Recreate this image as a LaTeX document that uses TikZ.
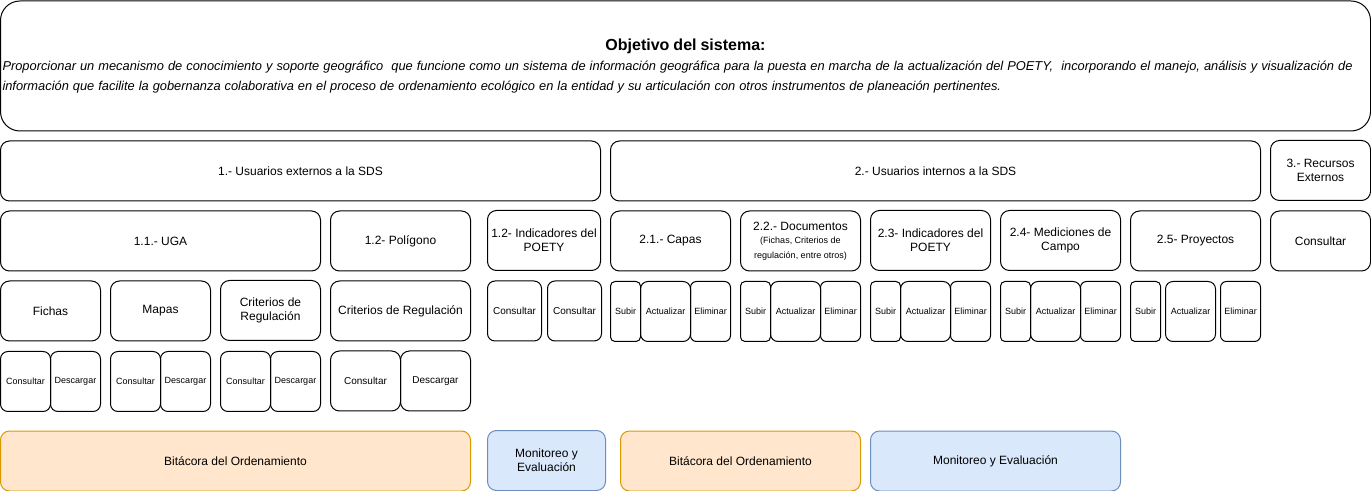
\documentclass[tikz,border=0pt]{standalone}
\usepackage{fontspec}
\setmainfont{Liberation Sans}

\definecolor{naranjaRelleno}{HTML}{FFE6CC}
\definecolor{naranjaBorde}{HTML}{D79B00}
\definecolor{azulRelleno}{HTML}{DAE8FC}
\definecolor{azulBorde}{HTML}{6C8EBF}

\tikzset{
  caja/.style={draw, line width=0.75pt, rounded corners=6.75pt, align=center, inner sep=1pt,
    font=\fontsize{9}{10.8}\selectfont},
  tam/.style 2 args={minimum width=#1*0.75pt, minimum height=#2*0.75pt},
  chica/.style={font=\fontsize{6.75}{8.1}\selectfont},
  media/.style={font=\fontsize{7.5}{9}\selectfont},
  r30/.style={rounded corners=3.4pt},
  r40/.style={rounded corners=4.5pt},
  r50/.style={rounded corners=5.6pt},
  naranja/.style={fill=naranjaRelleno, draw=naranjaBorde},
  azul/.style={fill=azulRelleno, draw=azulBorde},
}

\begin{document}
\begin{tikzpicture}[x=0.75pt,y=0.75pt,yscale=-1,xscale=1]
        \useasboundingbox (-0.5,-0.5) rectangle (1370.5,490.5);

        %Shape: Objetivo
        \node [caja, rounded corners=14.6pt, tam={1370}{130}, text width=1366*0.75pt, align=left, inner sep=0pt] (objetivo) at (685,65.5)
          {{\centering\fontsize{12}{14.4}\selectfont\bfseries Objetivo del sistema:\par}%
           {\fontsize{9.64}{14.7}\selectfont\itshape Proporcionar un mecanismo de conocimiento y soporte geográfico~ que funcione como un sistema de información geográfica para la puesta en marcha de la actualización del POETY,~ incorporando el manejo, análisis y visualización de\\información que facilite la gobernanza colaborativa en el proceso de ordenamiento ecológico en la entidad y su articulación con otros instrumentos de planeación pertinentes.\par}};

        %Shape: Usuarios
        \node [caja, tam={600}{60}] (externos) at (300,170.5) {1.- Usuarios externos a la SDS};
        \node [caja, tam={650}{60}] (internos) at (935,170.5) {2.- Usuarios internos a la SDS};
        \node [caja, tam={100}{60}] (recursos) at (1320,170) {3.- Recursos\\Externos};

        %Shape: Modulos
        \node [caja, tam={320}{60}] (uga) at (160,240.5) {1.1.- UGA};
        \node [caja, tam={140}{60}] (poligono) at (400,240.5) {1.2- Polígono};
        \node [caja, tam={113}{60}] (indExt) at (543.5,240) {1.2- Indicadores del\\POETY};
        \node [caja, tam={120}{60}] (capas) at (670,240.5) {2.1.- Capas};
        \node [caja, tam={120}{60}] (documentos) at (800,240.5) {2.2.- Documentos\\[-0.5pt]{\fontsize{6.75}{9}\selectfont(Fichas, Criterios de}\\[0pt]{\fontsize{6.75}{9}\selectfont regulación, entre otros)}};
        \node [caja, tam={120}{60}] (indInt) at (930,240) {2.3- Indicadores del\\POETY};
        \node [caja, tam={120}{60}] (mediciones) at (1060,240) {2.4- Mediciones de\\Campo};
        \node [caja, tam={130}{60}] (proyectos) at (1195,240.5) {2.5- Proyectos};
        \node [caja, tam={100}{60}] (consRec) at (1320,240.5) {Consultar};

        %Shape: Productos UGA y Poligono
        \node [caja, tam={100}{60}] (fichas) at (50,310.5) {Fichas};
        \node [caja, tam={100}{60}] (mapas) at (160,310.5) {Mapas};
        \node [caja, tam={100}{60}] (critUga) at (270,310) {Criterios de\\Regulación};
        \node [caja, tam={140}{60}] (critPol) at (400,310.5) {Criterios de Regulación};
        \node [caja, media, r50, tam={54}{60}] (consIndA) at (514,310.5) {Consultar};
        \node [caja, media, r50, tam={54}{60}] (consIndB) at (574,310.5) {Consultar};

        %Shape: Subir / Actualizar / Eliminar
        \foreach \nom/\cx in {capas/625, documentos/755, indInt/885, mediciones/1015}{
          \node [caja, chica, r30, tam={30}{60}] (subir-\nom) at (\cx,311) {Subir};
          \node [caja, chica, r50, tam={50}{60}] (act-\nom) at (\cx+40,311) {Actualizar};
          \node [caja, chica, r40, tam={40}{60}] (elim-\nom) at (\cx+85,311) {Eliminar};
        }
        \node [caja, chica, r30, tam={30}{60}] (subir-proyectos) at (1145,311) {Subir};
        \node [caja, chica, r50, tam={50}{60}] (act-proyectos) at (1190,311) {Actualizar};
        \node [caja, chica, r40, tam={40}{60}] (elim-proyectos) at (1240,311) {Eliminar};

        %Shape: Consultar / Descargar
        \foreach \nom/\cx in {fichas/25, mapas/135, critUga/245}{
          \node [caja, chica, r50, tam={50}{60}] (cons-\nom) at (\cx,381) {Consultar};
          \node [caja, chica, r50, tam={50}{60}] (desc-\nom) at (\cx+50,381) {Descargar};
        }
        \node [caja, media, tam={70}{60}] (cons-critPol) at (365,380.5) {Consultar};
        \node [caja, media, tam={70}{60}] (desc-critPol) at (435,380.5) {Descargar};

        %Shape: Bitacora y Monitoreo
        \node [caja, naranja, tam={470}{60}] (bitExt) at (235,460.5) {Bitácora del Ordenamiento};
        \node [caja, azul, tam={118}{60}] (monExt) at (546,460) {Monitoreo y\\Evaluación};
        \node [caja, naranja, tam={240}{60}] (bitInt) at (740,460.5) {Bitácora del Ordenamiento};
        \node [caja, azul, tam={250}{60}] (monInt) at (995,460.5) {Monitoreo y Evaluación};

    \end{tikzpicture}
\end{document}
